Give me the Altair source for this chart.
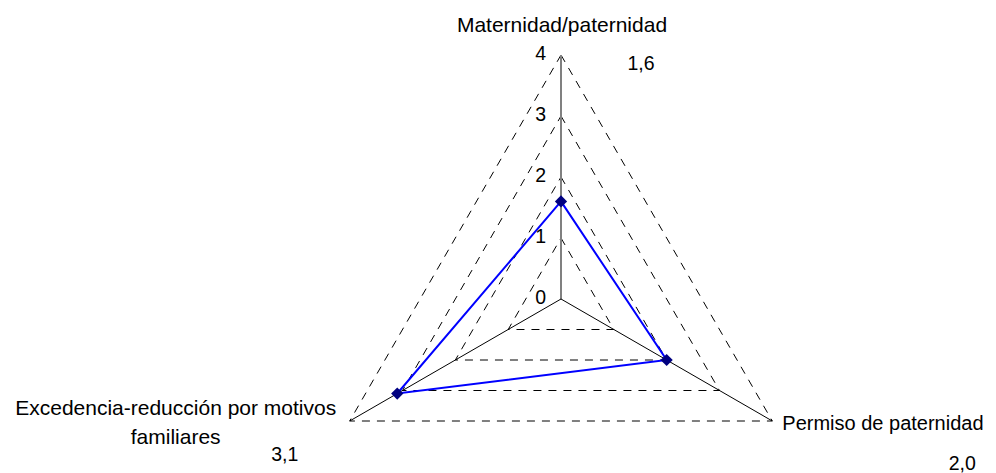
import math
import altair as alt
import pandas as pd

# ---- data ----
categories = ["Maternidad/paternidad", "Permiso de paternidad",
              "Excedencia-reducción por motivos familiares"]
category_display = ["Maternidad/paternidad", "Permiso de paternidad",
                    "Excedencia-reducción por motivos\nfamiliares"]
values = [1.6, 2.0, 3.1]
value_labels = ["1,6", "2,0", "3,1"]
levels = [0, 1, 2, 3, 4]
tick_labels = ["0", "1", "2", "3", "4"]
axis_angles = [90, -30, 210]   # clockwise radar layout, first axis up
R_MAX = 4

# ---- layout (pixels) ----
W, H = 980, 465
CX, CY, UNIT = 553, 291, 61
FONT = "Liberation Sans"
FS = 19.5
FS_CAT = 21

xdom = [-CX / UNIT, (W - CX) / UNIT]
ydom = [(CY - H) / UNIT, CY / UNIT]
xs = alt.Scale(domain=xdom, nice=False, zero=False)
ys = alt.Scale(domain=ydom, nice=False, zero=False)


def pol(r, a):
    return r * math.cos(math.radians(a)), r * math.sin(math.radians(a))


# data polygon (closed)
poly_rows = []
for k in range(len(categories) + 1):
    i = k % len(categories)
    x, y = pol(values[i], axis_angles[i])
    poly_rows.append({"cat": categories[i], "value": values[i], "x": x, "y": y, "o": k})
poly = pd.DataFrame(poly_rows)
pts = poly.iloc[:-1]

# grid triangles
grid_rows = []
for lv in levels[1:]:
    for k in range(len(categories) + 1):
        i = k % len(categories)
        x, y = pol(lv, axis_angles[i])
        grid_rows.append({"level": lv, "x": x, "y": y, "o": k})
grid = pd.DataFrame(grid_rows)

# spokes
spoke_rows = []
for i, c in enumerate(categories):
    x, y = pol(R_MAX, axis_angles[i])
    spoke_rows.append({"cat": c, "x": 0.0, "y": 0.0, "x2": x, "y2": y, "main": i == 0})
spokes = pd.DataFrame(spoke_rows)

# vertices for labels
vert_rows = []
for i, c in enumerate(categories):
    x, y = pol(R_MAX, axis_angles[i])
    vert_rows.append({"cat": c, "disp": category_display[i], "vlab": value_labels[i], "x": x, "y": y})
verts = pd.DataFrame(vert_rows)

ticks = pd.DataFrame({"x": [0.0] * len(levels), "y": levels, "t": tick_labels})

X = alt.X("x:Q", scale=xs, axis=None)
Y = alt.Y("y:Q", scale=ys, axis=None)

grid_layer = alt.Chart(grid).mark_line(
    color="#000000", strokeWidth=1, strokeDash=[8, 7]
).encode(x=X, y=Y, detail="level:N", order="o:Q")

spoke_layer = alt.Chart(spokes).mark_rule().encode(
    x=X, y=Y, x2="x2:Q", y2="y2:Q",
    color=alt.condition("datum.main", alt.value("#808080"), alt.value("#000000")),
    strokeWidth=alt.condition("datum.main", alt.value(2), alt.value(1)),
)

line_layer = alt.Chart(poly).mark_line(color="#0000FF", strokeWidth=2).encode(
    x=X, y=Y, order="o:Q")

point_layer = alt.Chart(pts).mark_point(
    shape="diamond", filled=True, size=150, color="#000080", opacity=1
).encode(x=X, y=Y)

tick_layer = alt.Chart(ticks).mark_text(
    font=FONT, fontSize=FS, align="right", baseline="middle", dx=-15, dy=-1, color="#000000"
).encode(x=X, y=Y, text="t:N")

cat_offsets = {
    categories[0]: dict(align="center", dx=1, dy=-29, fontSize=FS_CAT),
    categories[1]: dict(align="left", dx=10, dy=3, fontSize=20),
    categories[2]: dict(align="center", dx=-174, dy=-12, fontSize=FS_CAT),
}
val_offsets = {
    categories[0]: dict(dx=80, dy=9),
    categories[1]: dict(dx=190, dy=43),
    categories[2]: dict(dx=-65, dy=34),
}

label_layers = []
for c in categories:
    o = cat_offsets[c]
    label_layers.append(
        alt.Chart(verts).transform_filter(alt.datum.cat == c).mark_text(
            font=FONT, baseline="middle", lineBreak="\n", lineHeight=29,
            color="#000000", **o
        ).encode(x=X, y=Y, text="disp:N")
    )
    v = val_offsets[c]
    label_layers.append(
        alt.Chart(verts).transform_filter(alt.datum.cat == c).mark_text(
            font=FONT, fontSize=FS, baseline="middle", align="center",
            color="#000000", **v
        ).encode(x=X, y=Y, text="vlab:N")
    )

chart = alt.layer(
    grid_layer, spoke_layer, line_layer, point_layer, tick_layer, *label_layers
).properties(
    width=W, height=H, padding=0, autosize=alt.AutoSizeParams(type="none"),
    background="#ffffff",
).configure_view(stroke=None)

chart.save("out.html", embed_options={"renderer": "svg", "actions": False})
